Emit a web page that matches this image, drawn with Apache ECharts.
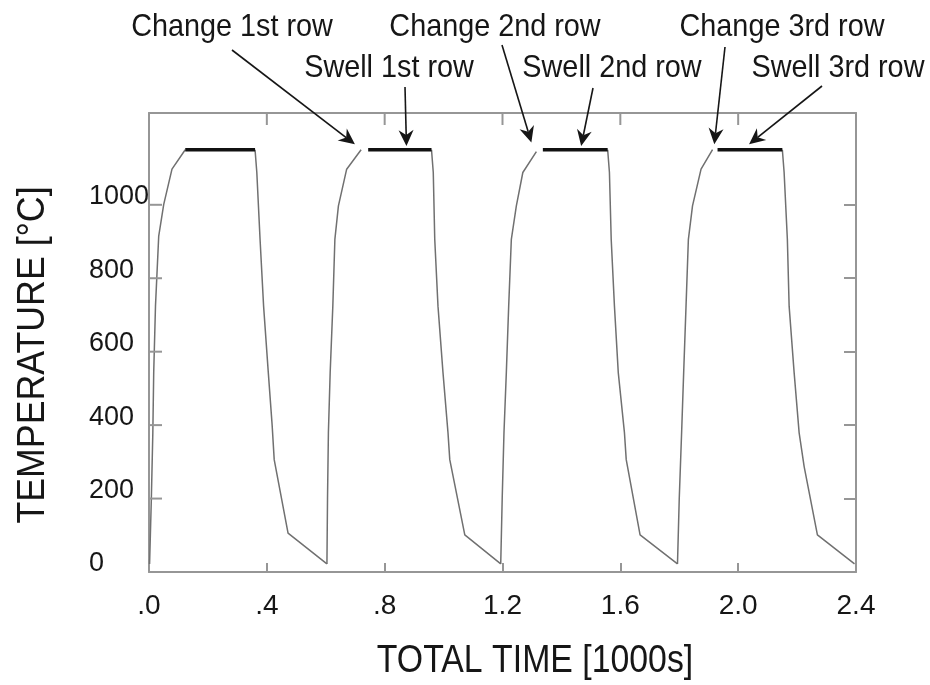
<!DOCTYPE html>
<html>
<head>
<meta charset="utf-8">
<script src="https://cdn.jsdelivr.net/npm/echarts@6/dist/echarts.min.js"></script>
<style>
  html, body { margin: 0; padding: 0; background: #fff; }
  #chart { width: 930px; height: 685px; }
</style>
</head>
<body>
<div id="chart"></div>
<script>
// Time in 1000 s, temperature in °C.

// Heating ramps ("change" of each row)
const ramp1Time = [0.002, 0.008, 0.013, 0.016, 0.022, 0.033, 0.050, 0.078, 0.123];
const ramp1Temp = [22, 200, 379, 543, 724, 915, 1001, 1097, 1150];
const ramp2Time = [0.604, 0.606, 0.609, 0.615, 0.624, 0.631, 0.643, 0.671, 0.720];
const ramp2Temp = [22, 200, 379, 543, 724, 906, 997, 1097, 1150];
const ramp3Time = [1.194, 1.199, 1.205, 1.213, 1.221, 1.230, 1.247, 1.269, 1.315];
const ramp3Temp = [22, 200, 379, 543, 724, 906, 997, 1088, 1145];
const ramp4Time = [1.794, 1.800, 1.808, 1.815, 1.823, 1.831, 1.845, 1.874, 1.913];
const ramp4Temp = [22, 200, 379, 543, 724, 906, 997, 1097, 1150];

// Holding at temperature ("swell" of each row)
const holdStart = [0.123, 0.744, 1.337, 1.930];
const holdEnd   = [0.360, 0.959, 1.557, 2.150];
const holdTemp  = 1150;

// Cooling after each hold
const cool1Time = [0.360, 0.366, 0.377, 0.389, 0.405, 0.418, 0.425, 0.472, 0.604];
const cool1Temp = [1150, 1088, 906, 724, 543, 400, 306, 106, 22];
const cool2Time = [0.959, 0.965, 0.970, 0.981, 0.998, 1.015, 1.021, 1.072, 1.194];
const cool2Temp = [1150, 1088, 906, 724, 543, 379, 306, 101, 22];
const cool3Time = [1.557, 1.563, 1.569, 1.580, 1.593, 1.614, 1.620, 1.667, 1.794];
const cool3Temp = [1150, 1088, 906, 724, 543, 379, 306, 101, 22];
const cool4Time = [2.150, 2.156, 2.167, 2.173, 2.190, 2.207, 2.224, 2.269, 2.395];
const cool4Temp = [1150, 1088, 906, 724, 543, 379, 287, 101, 22];

// Axes
const xMax = 2.4, yMax = 1250;
const xTicks = [0, 0.4, 0.8, 1.2, 1.6, 2.0, 2.4];
const xTickLabels = ['.0', '.4', '.8', '1.2', '1.6', '2.0', '2.4'];
const yTicks = [0, 200, 400, 600, 800, 1000];
const xTitle = 'TOTAL TIME [1000s]';
const yTitle = 'TEMPERATURE [°C]';

// Callouts: text, and the point each arrow points at (time, temperature)
const noteText = ['Change 1st row', 'Swell 1st row', 'Change 2nd row', 'Swell 2nd row', 'Change 3rd row', 'Swell 3rd row'];
const noteTipTime = [0.699, 0.874, 1.298, 1.467, 1.919, 2.037];
const noteTipTemp = [1165, 1160, 1170, 1160, 1165, 1165];

const FONT = "'Liberation Sans', Arial, sans-serif";
const FRAME = '#969696';
const INK = '#161616';

const pairs = (xs, ys) => xs.map((x, i) => [x, ys[i]]);

const curveStyle = { color: '#707070', width: 1.5 };
const series = [];
[[ramp1Time, ramp1Temp], [ramp2Time, ramp2Temp], [ramp3Time, ramp3Temp], [ramp4Time, ramp4Temp],
 [cool1Time, cool1Temp], [cool2Time, cool2Temp], [cool3Time, cool3Temp], [cool4Time, cool4Temp]]
  .forEach(([xs, ys]) => {
    series.push({
      type: 'line', data: pairs(xs, ys), showSymbol: false, silent: true,
      lineStyle: curveStyle, z: 2, animation: false
    });
  });
holdStart.forEach((s, i) => {
  series.push({
    type: 'line', data: [[s, holdTemp], [holdEnd[i], holdTemp]], showSymbol: false, silent: true,
    lineStyle: { color: '#111', width: 3.5 }, z: 3, animation: false
  });
});

const frameLine = () => ({ show: true, onZero: false, lineStyle: { color: FRAME, width: 2 } });
const tickStyle = () => ({ color: FRAME, width: 2 });
const xLabelFmt = v => {
  const k = xTicks.findIndex(t => Math.abs(t - v) < 1e-6);
  return k >= 0 ? xTickLabels[k] : '';
};
const xScale = { type: 'value', min: 0, max: xMax, interval: 0.4, splitLine: { show: false } };
const yScale = { type: 'value', min: 0, max: yMax, splitLine: { show: false } };

const chart = echarts.init(document.getElementById('chart'), null, { renderer: 'canvas' });
chart.setOption({
  animation: false,
  backgroundColor: '#fff',
  grid: { left: 149, right: 74, top: 113, bottom: 113, containLabel: false },
  xAxis: [
    Object.assign({}, xScale, {
      position: 'bottom', axisLine: frameLine(),
      axisTick: { show: true, inside: true, length: 9, lineStyle: tickStyle() },
      axisLabel: { formatter: xLabelFmt, margin: 20, fontFamily: FONT, fontSize: 28, color: INK }
    }),
    Object.assign({}, xScale, {
      position: 'top', axisLine: frameLine(), axisTick: { show: false }, axisLabel: { show: false }
    })
  ],
  yAxis: [
    Object.assign({}, yScale, {
      position: 'left', axisLine: frameLine(), axisTick: { show: false },
      axisLabel: { customValues: yTicks, formatter: v => String(v), align: 'left', verticalAlign: 'bottom',
                   lineHeight: 16, margin: 60, fontFamily: FONT, fontSize: 27, color: INK }
    }),
    Object.assign({}, yScale, {
      position: 'right', axisLine: frameLine(),
      axisTick: { show: true, inside: true, length: 12, customValues: yTicks, lineStyle: tickStyle() },
      axisLabel: { show: false }
    })
  ],
  series
});

const toPx = (x, y) => chart.convertToPixel({ xAxisIndex: 0, yAxisIndex: 0 }, [x, y]);
const graphics = [];

// inward ticks along the left and top edges of the frame
yTicks.forEach(v => {
  const p = toPx(0, v);
  graphics.push({ type: 'line', z: 50, silent: true,
    shape: { x1: p[0], y1: p[1], x2: p[0] + 13, y2: p[1] }, style: { stroke: FRAME, lineWidth: 2 } });
});
xTicks.forEach(v => {
  const p = toPx(v, yMax);
  graphics.push({ type: 'line', z: 50, silent: true,
    shape: { x1: p[0], y1: p[1], x2: p[0], y2: p[1] + 12 }, style: { stroke: FRAME, lineWidth: 2 } });
});

// Callout layout: text centre and arrow tail, in pixels
const noteBox = [
  { x: 232, y: 27, tail: [232, 50] },
  { x: 389, y: 68, tail: [405, 87] },
  { x: 495, y: 27, tail: [502, 45] },
  { x: 612, y: 68, tail: [593, 88] },
  { x: 782, y: 27, tail: [725, 47] },
  { x: 838, y: 68, tail: [822, 86] }
];

// condensed text block centred on (x, y)
const condensedText = (text, x, y, size, sx, rotation) => ({
  type: 'text', z: 10, silent: true, x, y, scaleX: sx, scaleY: 1, rotation: rotation || 0,
  style: { text, x: 0, y: 0, textAlign: 'center', textVerticalAlign: 'middle',
           font: size + 'px ' + FONT, fill: INK }
});

graphics.push(condensedText(xTitle, 535, 662, 38, 0.89));
graphics.push(condensedText(yTitle, 34, 355, 38, 0.94, Math.PI / 2));

noteText.forEach((t, i) => {
  const box = noteBox[i];
  graphics.push(condensedText(t, box.x, box.y, 32, 0.9));
  const tip = toPx(noteTipTime[i], noteTipTemp[i]);
  const [tx, ty] = box.tail;
  const dx = tip[0] - tx, dy = tip[1] - ty;
  const len = Math.hypot(dx, dy);
  const ux = dx / len, uy = dy / len;
  const nx = -uy, ny = ux;
  const headLen = 16, headHalf = 7.5, notch = 5;
  const bx = tip[0] - ux * headLen, by = tip[1] - uy * headLen;
  graphics.push({
    type: 'line', z: 10, silent: true,
    shape: { x1: tx, y1: ty, x2: tip[0] - ux * (headLen - notch), y2: tip[1] - uy * (headLen - notch) },
    style: { stroke: INK, lineWidth: 1.6 }
  });
  graphics.push({
    type: 'polygon', z: 10, silent: true,
    shape: { points: [
      [tip[0], tip[1]],
      [bx + nx * headHalf, by + ny * headHalf],
      [tip[0] - ux * (headLen - notch), tip[1] - uy * (headLen - notch)],
      [bx - nx * headHalf, by - ny * headHalf]
    ] },
    style: { fill: INK }
  });
});
chart.setOption({ graphic: graphics });
</script>
</body>
</html>
